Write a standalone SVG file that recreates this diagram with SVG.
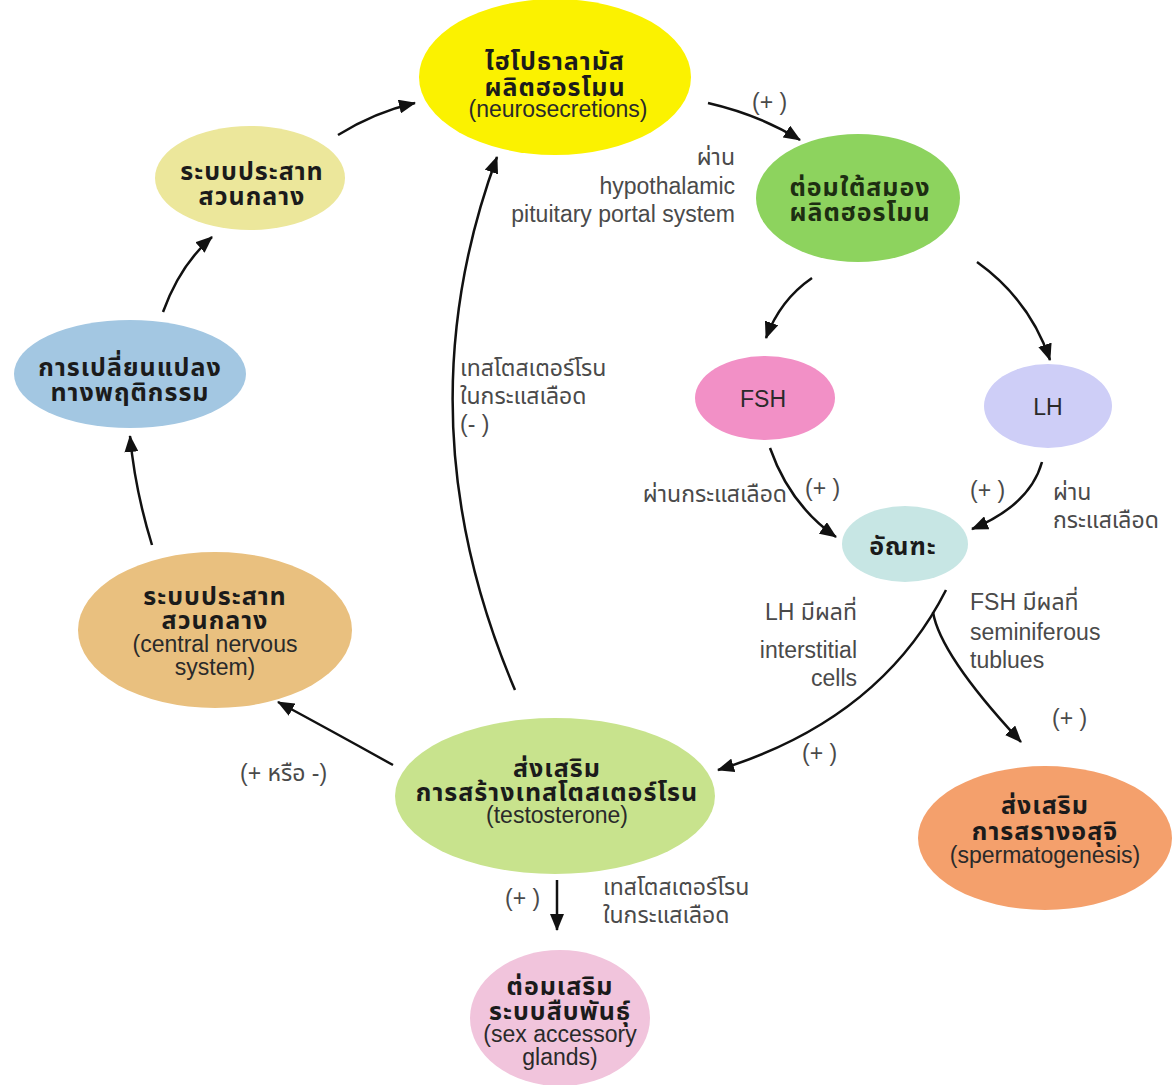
<svg xmlns="http://www.w3.org/2000/svg" width="1173" height="1085" viewBox="0 0 1173 1085">
<defs>
<marker id="ah" markerUnits="userSpaceOnUse" markerWidth="18" markerHeight="14" refX="16" refY="7" orient="auto">
<path d="M0,0 L17,7 L0,14 z" fill="#111"/>
</marker>
<style>
.th{font-family:"Noto Sans Thai","Loma","Tlwg Typo","Garuda","Liberation Sans",sans-serif;font-weight:bold;font-size:25px;letter-spacing:1px;fill:#1b1b1b;text-anchor:middle}
.en{font-family:"Liberation Sans","Noto Sans Thai","Loma",sans-serif;font-size:23px;fill:#2a2a2a;text-anchor:middle}
.lb{font-family:"Liberation Sans","Noto Sans Thai","Loma",sans-serif;font-size:23px;fill:#4a4a4a}
.r{text-anchor:end}
.c{stroke:#111;stroke-width:2.5;fill:none;marker-end:url(#ah)}
</style>
</defs>
<rect width="1173" height="1085" fill="#fff"/>

<g id="connectors">
<path class="c" d="M708,103 Q760,115 800,140"/>
<path class="c" d="M812,278 Q780,300 766,338"/>
<path class="c" d="M977,262 Q1030,300 1050,360"/>
<path class="c" d="M770,448 Q790,505 836,537"/>
<path class="c" d="M1042,462 Q1030,505 972,529"/>
<path class="c" d="M946,590 Q880,720 718,770"/>
<path class="c" d="M933,612 Q940,655 1021,742"/>
<path class="c" d="M515,690 Q400,420 497,157"/>
<path class="c" d="M393,765 Q330,730 278,702"/>
<path class="c" d="M152,545 Q135,490 130,436"/>
<path class="c" d="M163,312 Q180,265 212,237"/>
<path class="c" d="M338,135 Q375,112 415,103"/>
<path class="c" d="M557,880 L557,930"/>
</g>

<g id="hypothalamus">
<ellipse cx="555" cy="77" rx="136" ry="78" fill="#fbf200"/>
<text class="th" x="555" y="70">ไฮโปธาลามัส</text>
<text class="th" x="555" y="96">ผลิตฮอรโมน</text>
<text class="en" x="558" y="117">(neurosecretions)</text>
</g>

<g id="pituitary">
<ellipse cx="858" cy="198" rx="102" ry="64" fill="#8dd35e"/>
<text class="th" x="860" y="196" style="fill:#1d2e12">ต่อมใต้สมอง</text>
<text class="th" x="860" y="221" style="fill:#1d2e12">ผลิตฮอรโมน</text>
</g>

<g id="cns-top">
<ellipse cx="250" cy="178" rx="95" ry="52" fill="#ece79b"/>
<text class="th" x="252" y="180">ระบบประสาท</text>
<text class="th" x="252" y="205">สวนกลาง</text>
</g>

<g id="behavior">
<ellipse cx="130" cy="374" rx="116" ry="54" fill="#a3c7e2"/>
<text class="th" x="130" y="376">การเปลี่ยนแปลง</text>
<text class="th" x="130" y="401">ทางพฤติกรรม</text>
</g>

<g id="fsh">
<ellipse cx="765" cy="398" rx="70" ry="42" fill="#f290c6"/>
<text class="en" x="763" y="407">FSH</text>
</g>

<g id="lh">
<ellipse cx="1048" cy="406" rx="64" ry="42" fill="#cecef7"/>
<text class="en" x="1048" y="415">LH</text>
</g>

<g id="testis">
<ellipse cx="905" cy="544" rx="63" ry="38" fill="#c7e6e4"/>
<text class="th" x="903" y="555">อัณฑะ</text>
</g>

<g id="cns">
<ellipse cx="215" cy="630" rx="137" ry="78" fill="#e9c07f"/>
<text class="th" x="215" y="605">ระบบประสาท</text>
<text class="th" x="215" y="629">สวนกลาง</text>
<text class="en" x="215" y="652">(central nervous</text>
<text class="en" x="215" y="675">system)</text>
</g>

<g id="testosterone">
<ellipse cx="555" cy="796" rx="160" ry="78" fill="#c8e38d"/>
<text class="th" x="557" y="777">ส่งเสริม</text>
<text class="th" x="557" y="801">การสร้างเทสโตสเตอร์โรน</text>
<text class="en" x="557" y="823">(testosterone)</text>
</g>

<g id="spermatogenesis">
<ellipse cx="1045" cy="838" rx="127" ry="72" fill="#f4a06c"/>
<text class="th" x="1045" y="814">ส่งเสริม</text>
<text class="th" x="1045" y="840">การสรางอสุจิ</text>
<text class="en" x="1045" y="863">(spermatogenesis)</text>
</g>

<g id="accessory">
<ellipse cx="560" cy="1018" rx="90" ry="68" fill="#f1c4dc"/>
<text class="th" x="560" y="995">ต่อมเสริม</text>
<text class="th" x="560" y="1020">ระบบสืบพันธุ์</text>
<text class="en" x="560" y="1042">(sex accessory</text>
<text class="en" x="560" y="1065">glands)</text>
</g>

<g id="labels">
<text class="lb" x="752" y="110">(+ )</text>
<text class="lb r" x="735" y="165">ผ่าน</text>
<text class="lb r" x="735" y="194">hypothalamic</text>
<text class="lb r" x="735" y="222">pituitary portal system</text>
<text class="lb" x="460" y="376">เทสโตสเตอร์โรน</text>
<text class="lb" x="460" y="404">ในกระแสเลือด</text>
<text class="lb" x="460" y="432">(- )</text>
<text class="lb r" x="787" y="502">ผ่านกระแสเลือด</text>
<text class="lb" x="805" y="496">(+ )</text>
<text class="lb" x="970" y="498">(+ )</text>
<text class="lb" x="1053" y="500">ผ่าน</text>
<text class="lb" x="1053" y="528">กระแสเลือด</text>
<text class="lb r" x="857" y="620">LH มีผลที่</text>
<text class="lb r" x="857" y="658">interstitial</text>
<text class="lb r" x="857" y="686">cells</text>
<text class="lb" x="970" y="610">FSH มีผลที่</text>
<text class="lb" x="970" y="640">seminiferous</text>
<text class="lb" x="970" y="668">tublues</text>
<text class="lb" x="1052" y="726">(+ )</text>
<text class="lb" x="802" y="761">(+ )</text>
<text class="lb" x="240" y="781">(+ หรือ -)</text>
<text class="lb" x="505" y="906">(+ )</text>
<text class="lb" x="603" y="895">เทสโตสเตอร์โรน</text>
<text class="lb" x="603" y="923">ในกระแสเลือด</text>
</g>
</svg>
